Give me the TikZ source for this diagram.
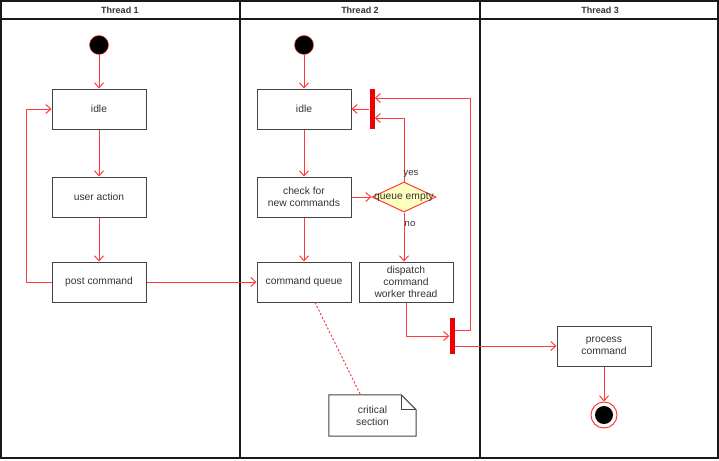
\documentclass[tikz,border=0pt]{standalone}
\usepackage{fontspec}
\setmainfont{Liberation Sans}
\usetikzlibrary{arrows.meta,shapes.geometric,calc}
\definecolor{flowred}{HTML}{FF3B3B}
\definecolor{barred}{HTML}{EE0000}
\definecolor{boxgray}{HTML}{444444}
\definecolor{textgray}{HTML}{333333}
\definecolor{dfill}{HTML}{FFFFC0}
\begin{document}
\begin{tikzpicture}[x=1pt,y=-1pt,
  act/.style={draw=boxgray, line width=1pt, minimum width=94pt, minimum height=40pt,
    align=center, font=\fontsize{10.3}{12}\selectfont, text=textgray, inner sep=0pt},
  flow/.style={draw=flowred, line width=1pt, -{Straight Barb[length=5pt,width=9pt]}},
  startst/.style={circle, fill=black, draw=flowred, line width=0.5pt, minimum size=19pt, inner sep=0pt},
  barst/.style={fill=barred, minimum width=5pt, inner sep=0pt},
  lane/.style={draw=black!90, line width=1.3pt},
  head/.style={font=\fontsize{9}{10}\selectfont\bfseries, text=textgray},
  lbl/.style={font=\fontsize{9.5}{11}\selectfont, text=textgray, inner sep=1pt}
]
\useasboundingbox (0,0) rectangle (719,460);
% swimlanes
\draw[lane] (1,1) rectangle (718,458);
\draw[lane] (1,19) -- (718,19);
\draw[lane] (240,1) -- (240,458);
\draw[lane] (480,1) -- (480,458);
\node[head] (h1) at (120,10) {Thread 1};
\node[head] (h2) at (360,10) {Thread 2};
\node[head] (h3) at (600,10) {Thread 3};

% Thread 1
\node[startst] (s1) at (99,45) {};
\node[act] (idle1) at (99,109) {idle};
\node[act] (ua) at (99,197) {user action};
\node[act] (post) at (99,282) {post command};

% Thread 2
\node[startst] (s2) at (304,45) {};
\node[act] (idle2) at (304,109) {idle};
\node[act] (check) at (304,197) {check for\\new commands};
\node[act] (cq) at (304,282) {command queue};
\node[diamond, draw=flowred, fill=dfill, line width=1pt, minimum width=64pt, minimum height=30pt, inner sep=0pt] (qe) at (404,197) {};
\node[font=\fontsize{10.3}{12}\selectfont, text=textgray, inner sep=0pt] (qet) at (qe.center) {queue empty};
\node[barst, minimum height=40pt] (bar1) at (372,109) {};
\node[act] (disp) at (406,282) {dispatch\\command\\worker thread};
\node[barst, minimum height=36pt] (bar2) at (452,336) {};

% note
\node[minimum width=87pt, minimum height=41pt, align=center, inner sep=0pt,
  font=\fontsize{10.3}{12}\selectfont, text=textgray] (note) at (372.5,415.5) {critical\\section};
\draw[boxgray, line width=1pt] (note.south west) -- (note.north west)
  -- ($(note.north east)+(-15,0)$) -- ($(note.north east)+(0,15)$) -- (note.south east) -- cycle;
\draw[boxgray, line width=0.7pt] ($(note.north east)+(-15,0)$) -- ($(note.north east)+(-15,15)$) -- ($(note.north east)+(0,15)$);

% Thread 3
\node[act] (proc) at (604,346) {process\\command};
\node[circle, draw=flowred, line width=1pt, minimum size=26pt, inner sep=0pt] (fin) at (604,415) {};
\node[circle, fill=black, minimum size=18pt, inner sep=0pt] (finin) at (fin.center) {};

% connectors
\draw[flow] (s1) -- (idle1);
\draw[flow] (idle1) -- (ua);
\draw[flow] (ua) -- (post);
\draw[flow] (post.west) -- ++(-25,0) |- (idle1.west);
\draw[flow] (post) -- (cq);
\draw[flow] (s2) -- (idle2);
\draw[flow] (idle2) -- (check);
\draw[flow] (check) -- (cq);
\draw[flow] (check) -- (qe);
\draw[flow] (qe.north) |- ($(bar1.east)+(0,9)$);
\node[lbl] (yes) at (411,174) {yes};
\draw[flow] (bar1) -- (idle2);
\draw[flow] (qe.south) -- (qe.south |- disp.north);
\node[lbl] (no) at (410,224) {no};
\draw[flow] (disp.south) |- (bar2.west);
\coordinate (rt) at (470,98);
\draw[flow] ($(bar2.east)+(0,-6)$) -| (rt) -- (bar1.east |- rt);
\draw[flow] ($(bar2.east)+(0,10)$) -- (proc.west);
\draw[flow] (proc) -- (fin);
\draw[flowred, line width=1pt, dash pattern=on 2pt off 2pt] ($(cq.south)+(11,0)$) -- ($(note.north)+(-12,0)$);
\end{tikzpicture}
\end{document}
